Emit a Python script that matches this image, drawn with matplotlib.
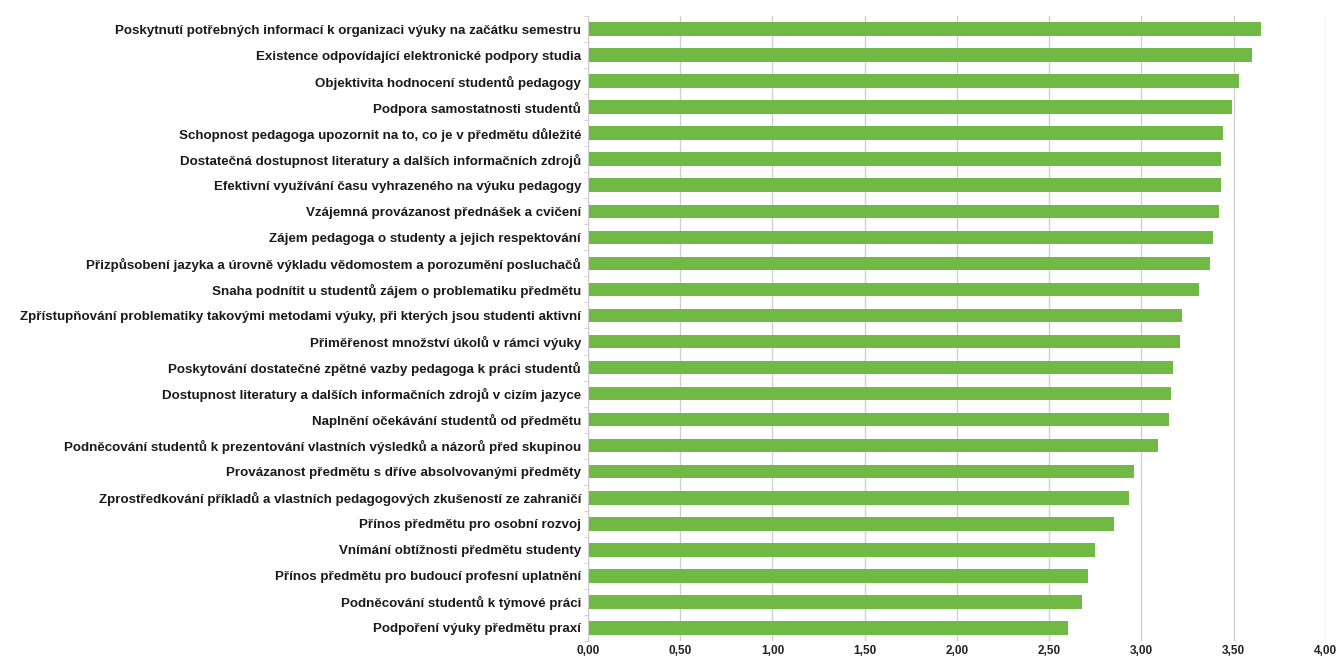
import matplotlib.pyplot as plt
import numpy as np

plt.rcParams['font.family'] = ['Liberation Sans', 'DejaVu Sans']

labels = [
    "Poskytnutí potřebných informací k organizaci výuky na začátku semestru",
    "Existence odpovídající elektronické podpory studia",
    "Objektivita hodnocení studentů pedagogy",
    "Podpora samostatnosti studentů",
    "Schopnost pedagoga upozornit na to, co je v předmětu důležité",
    "Dostatečná dostupnost literatury a dalších informačních zdrojů",
    "Efektivní využívání času vyhrazeného na výuku pedagogy",
    "Vzájemná provázanost přednášek a cvičení",
    "Zájem pedagoga o studenty a jejich respektování",
    "Přizpůsobení jazyka a úrovně výkladu vědomostem a porozumění posluchačů",
    "Snaha podnítit u studentů zájem o problematiku předmětu",
    "Zpřístupňování problematiky takovými metodami výuky, při kterých jsou studenti aktivní",
    "Přiměřenost množství úkolů v rámci výuky",
    "Poskytování dostatečné zpětné vazby pedagoga k práci studentů",
    "Dostupnost literatury a dalších informačních zdrojů v cizím jazyce",
    "Naplnění očekávání studentů od předmětu",
    "Podněcování studentů k prezentování vlastních výsledků a názorů před skupinou",
    "Provázanost předmětu s dříve absolvovanými předměty",
    "Zprostředkování příkladů a vlastních pedagogových zkušeností ze zahraničí",
    "Přínos předmětu pro osobní rozvoj",
    "Vnímání obtížnosti předmětu studenty",
    "Přínos předmětu pro budoucí profesní uplatnění",
    "Podněcování studentů k týmové práci",
    "Podpoření výuky předmětu praxí",
]
values = [3.65, 3.60, 3.53, 3.49, 3.44, 3.43, 3.43, 3.42, 3.39, 3.37, 3.31, 3.22,
          3.21, 3.17, 3.16, 3.15, 3.09, 2.96, 2.93, 2.85, 2.75, 2.71, 2.68, 2.60]
xticks = [0, 0.5, 1, 1.5, 2, 2.5, 3, 3.5, 4]

fig = plt.figure(figsize=(13.4, 6.61), dpi=100)
ax = fig.add_axes([0.4388, 0.0303, 0.5507, 0.9455])

y = np.arange(len(labels))
ax.barh(y, values, height=0.52, color="#6fb944", zorder=2)
ax.set_ylim(len(labels) - 0.5, -0.5)
ax.set_xlim(0, 4)

ax.set_yticks(y)
ax.set_yticklabels(labels, fontsize=9.6, fontweight='bold', color="#1a1a1a")
ax.set_yticks(np.arange(len(labels) + 1) - 0.5, minor=True)
ax.tick_params(axis='y', which='major', length=0, pad=5)
ax.tick_params(axis='y', which='minor', length=3, color="#cccccc")

ax.set_xticks(xticks)
ax.set_xticklabels([f"{t:.2f}".replace(".", ",") for t in xticks], fontsize=8.5,
                   fontweight='bold', color="#222222")
ax.tick_params(axis='x', length=0, pad=3)
ax.grid(axis='x', color="#cfcfcf", linewidth=1, zorder=0)

for s in ['top', 'right', 'bottom']:
    ax.spines[s].set_visible(False)
ax.spines['left'].set_color("#cccccc")

fig.savefig("out.png", dpi=100)
